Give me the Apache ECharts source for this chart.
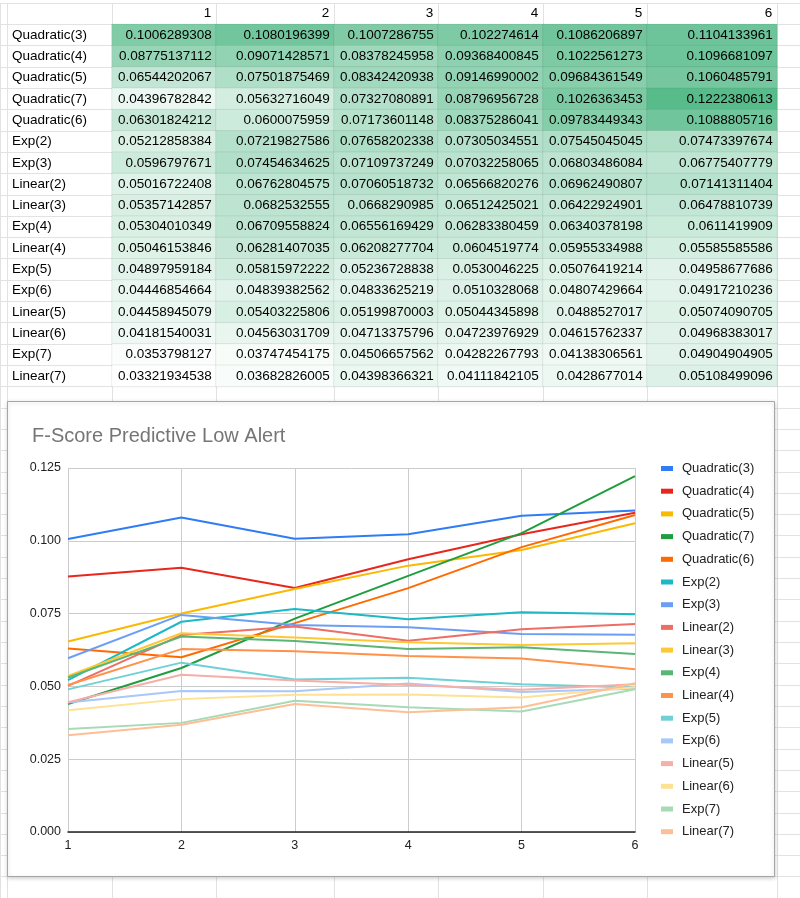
<!DOCTYPE html>
<html>
<head>
<meta charset="utf-8">
<script src="https://cdn.jsdelivr.net/npm/echarts@6/dist/echarts.min.js"></script>
<style>
  html, body { margin: 0; padding: 0; background: #fff; }
  #main { width: 800px; height: 898px; }
</style>
</head>
<body>
<div id="main"></div>
<script>
// column headers (1..6)
const colLabels = ['1', '2', '3', '4', '5', '6'];

// one row per model
const quadratic3 = [0.1006289308, 0.1080196399, 0.1007286755, 0.102274614, 0.1086206897, 0.1104133961];
const quadratic4 = [0.08775137112, 0.09071428571, 0.08378245958, 0.09368400845, 0.1022561273, 0.1096681097];
const quadratic5 = [0.06544202067, 0.07501875469, 0.08342420938, 0.09146990002, 0.09684361549, 0.1060485791];
const quadratic7 = [0.04396782842, 0.05632716049, 0.07327080891, 0.08796956728, 0.1026363453, 0.1222380613];
const quadratic6 = [0.06301824212, 0.0600075959, 0.07173601148, 0.08375286041, 0.09783449343, 0.1088805716];
const exp2 = [0.05212858384, 0.07219827586, 0.07658202338, 0.07305034551, 0.07545045045, 0.07473397674];
const exp3 = [0.0596797671, 0.07454634625, 0.07109737249, 0.07032258065, 0.06803486084, 0.06775407779];
const linear2 = [0.05016722408, 0.06762804575, 0.07060518732, 0.06566820276, 0.06962490807, 0.07141311404];
const linear3 = [0.05357142857, 0.0682532555, 0.0668290985, 0.06512425021, 0.06422924901, 0.06478810739];
const exp4 = [0.05304010349, 0.06709558824, 0.06556169429, 0.06283380459, 0.06340378198, 0.0611419909];
const linear4 = [0.05046153846, 0.06281407035, 0.06208277704, 0.0604519774, 0.05955334988, 0.05585585586];
const exp5 = [0.04897959184, 0.05815972222, 0.05236728838, 0.0530046225, 0.05076419214, 0.04958677686];
const exp6 = [0.04446854664, 0.04839382562, 0.04833625219, 0.0510328068, 0.04807429664, 0.04917210236];
const linear5 = [0.04458945079, 0.05403225806, 0.05199870003, 0.05044345898, 0.0488527017, 0.05074090705];
const linear6 = [0.04181540031, 0.04563031709, 0.04713375796, 0.04723976929, 0.04615762337, 0.04968383017];
const exp7 = [0.0353798127, 0.03747454175, 0.04506657562, 0.04282267793, 0.04138306561, 0.04904904905];
const linear7 = [0.03321934538, 0.03682826005, 0.04398366321, 0.04111842105, 0.0428677014, 0.05108499096];

const rowNames = ['Quadratic(3)', 'Quadratic(4)', 'Quadratic(5)', 'Quadratic(7)', 'Quadratic(6)',
  'Exp(2)', 'Exp(3)', 'Linear(2)', 'Linear(3)', 'Exp(4)', 'Linear(4)', 'Exp(5)', 'Exp(6)',
  'Linear(5)', 'Linear(6)', 'Exp(7)', 'Linear(7)'];
const rowValues = [quadratic3, quadratic4, quadratic5, quadratic7, quadratic6, exp2, exp3,
  linear2, linear3, exp4, linear4, exp5, exp6, linear5, linear6, exp7, linear7];

const yTicks = [0, 0.025, 0.05, 0.075, 0.1, 0.125];

// styling / layout
const lineColors = ['#2f7cf6', '#e8261c', '#fbb800', '#1e9e3e', '#ff6a00', '#1cb8c4', '#6d9ef5',
  '#ec6e66', '#fcc934', '#5bb574', '#ff9248', '#6fd0d6', '#a8c7fa', '#f6aea9', '#fde293',
  '#a8dab5', '#fdbf96'];
const FONT = 'Arial, "Liberation Sans", sans-serif';
const colEdges = [0, 7, 112, 216, 334, 438, 543, 647, 777, 800];
const rowH = 21.55;
const nRows = 42;

// category rows of the sheet: header, data rows, empty rows
const sheetRows = ['hdr'].concat(rowNames);
while (sheetRows.length < nRows) sheetRows.push('empty' + sheetRows.length);

const chart = echarts.init(document.getElementById('main'));

const grids = [], xAxes = [], yAxes = [], series = [];
const cellSeriesIdx = [];

for (let i = 0; i < colEdges.length - 1; i++) {
  grids.push({
    left: colEdges[i], top: 3,
    width: colEdges[i + 1] - colEdges[i], height: rowH * nRows
  });
  xAxes.push({
    gridIndex: i, type: 'category', data: [''], z: 0,
    axisLabel: { show: false }, axisTick: { show: false }, axisLine: { show: false },
    splitLine: { show: true, interval: 0, lineStyle: { color: '#e2e2e2', width: 1 } }
  });
  yAxes.push({
    gridIndex: i, type: 'category', inverse: true, data: sheetRows, z: 0,
    axisTick: { show: false }, axisLine: { show: false },
    axisLabel: {
      show: i === 1, inside: true, margin: 5, interval: 0,
      fontFamily: FONT, fontSize: 13.5, color: '#000',
      formatter: function (v) { return rowNames.indexOf(v) >= 0 ? v : ''; }
    },
    splitLine: { show: true, interval: 0, lineStyle: { color: '#e2e2e2', width: 1 } }
  });
}

// table cells, one heatmap per column
colLabels.forEach(function (lab, c) {
  const g = c + 2;
  series.push({
    type: 'heatmap', xAxisIndex: g, yAxisIndex: g, z: 0,
    data: [{ value: [0, 0, 0], name: lab }],
    itemStyle: { color: 'rgba(0,0,0,0)' },
    label: {
      show: true, position: 'insideRight', distance: 5,
      fontFamily: FONT, fontSize: 13.5, color: '#000',
      formatter: function (p) { return p.name; }
    },
    emphasis: { disabled: true }, silent: true
  });
  cellSeriesIdx.push(series.length);
  series.push({
    type: 'heatmap', xAxisIndex: g, yAxisIndex: g, z: 0,
    data: rowValues.map(function (row, r) { return [0, r + 1, row[c]]; }),
    itemStyle: { borderColor: 'rgba(0,0,0,0.07)', borderWidth: 1 },
    label: {
      show: true, position: 'insideRight', distance: 5,
      fontFamily: FONT, fontSize: 13.5, color: '#000',
      formatter: function (p) { return String(p.value[2]); }
    },
    emphasis: { disabled: true }, silent: true
  });
});

// the line chart
const cg = grids.length;
grids.push({ left: 68, top: 468, width: 567, height: 364 });
xAxes.push({
  gridIndex: cg, type: 'category', data: colLabels, boundaryGap: false, z: 3,
  axisLine: { show: true, lineStyle: { color: '#222', width: 1.5 } },
  axisTick: { show: false },
  axisLabel: { margin: 7, fontFamily: FONT, fontSize: 12.5, color: '#222' },
  splitLine: { show: true, lineStyle: { color: '#cccccc', width: 1 } }
});
yAxes.push({
  gridIndex: cg, type: 'value', min: yTicks[0], max: yTicks[yTicks.length - 1],
  interval: yTicks[1] - yTicks[0], z: 3,
  axisLine: { show: false }, axisTick: { show: false },
  axisLabel: {
    margin: 7, fontFamily: FONT, fontSize: 12.5, color: '#222',
    formatter: function (v) { return v.toFixed(3); }
  },
  splitLine: { show: true, lineStyle: { color: '#cccccc', width: 1 } }
});
rowNames.forEach(function (name, i) {
  series.push({
    name: name, type: 'line', xAxisIndex: cg, yAxisIndex: cg, z: 4,
    data: rowValues[i], showSymbol: false, symbol: 'none',
    color: lineColors[i],
    lineStyle: { width: 2, color: lineColors[i] },
    emphasis: { disabled: true }
  });
});

chart.setOption({
  backgroundColor: '#ffffff',
  animation: false,
  title: {
    text: 'F-Score Predictive Low Alert', left: 27, top: 421, z: 6,
    textStyle: { fontFamily: FONT, fontSize: 20, fontWeight: 'normal', color: '#757575' }
  },
  legend: {
    orient: 'vertical', left: 656, top: 457, z: 6,
    icon: 'rect', itemWidth: 12, itemHeight: 5, itemGap: 9.7,
    data: rowNames,
    textStyle: { fontFamily: FONT, fontSize: 13, color: '#222', padding: [0, 0, 0, 4] }
  },
  visualMap: {
    show: false, type: 'continuous', seriesIndex: cellSeriesIdx, dimension: 2,
    min: 0.03321934538, max: 0.1222380613,
    inRange: { color: ['#ffffff', '#57bb8a'] }
  },
  graphic: [{
    type: 'rect', z: 1, silent: true,
    shape: { x: 7.5, y: 401.5, width: 767, height: 475 },
    style: {
      fill: '#ffffff', stroke: '#a6a6a6', lineWidth: 1,
      shadowBlur: 4, shadowColor: 'rgba(0,0,0,0.18)', shadowOffsetY: 1
    }
  }],
  grid: grids,
  xAxis: xAxes,
  yAxis: yAxes,
  series: series
});
</script>
</body>
</html>
